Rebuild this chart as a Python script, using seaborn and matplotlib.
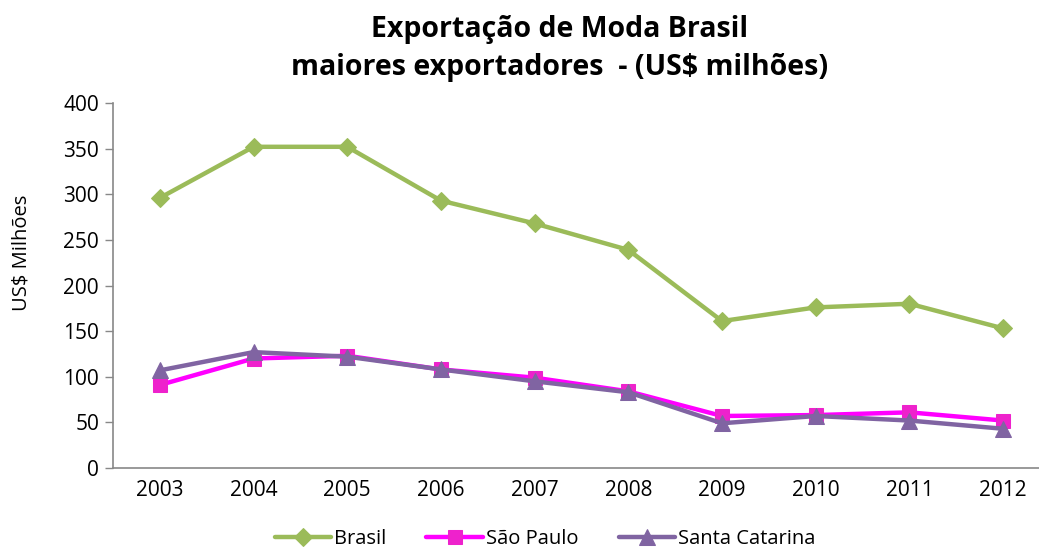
import numpy as np
import pandas as pd
import matplotlib
matplotlib.use("Agg")
import matplotlib.pyplot as plt
import seaborn as sns

years = [2003, 2004, 2005, 2006, 2007, 2008, 2009, 2010, 2011, 2012]
brasil = [296, 352, 352, 293, 268, 239, 161, 176, 180, 153]
sao_paulo = [91, 120, 123, 108, 99, 84, 57, 58, 61, 52]
santa_catarina = [107, 127, 122, 108, 95, 83, 49, 57, 52, 43]

series = ["Brasil", "São Paulo", "Santa Catarina"]
line_colors = ["#9BBB59", "#FF00FF", "#8064A2"]
marker_colors = ["#9BBB59", "#EE22CC", "#8064A2"]
markers = ["D", "s", "^"]
msizes = [9, 10, 11]

df = pd.DataFrame({"ano": years * 3,
                   "valor": brasil + sao_paulo + santa_catarina,
                   "serie": np.repeat(series, len(years))})

sns.set_style("white")
plt.rcParams['font.family'] = ['Open Sans', 'DejaVu Sans']
plt.rcParams['text.color'] = 'black'
plt.rcParams['axes.labelcolor'] = 'black'
plt.rcParams['xtick.color'] = 'black'
plt.rcParams['ytick.color'] = 'black'

fig = plt.figure(figsize=(10.39, 5.51), dpi=100)
ax = fig.add_axes([113/1039, 83/551, (1050-113)/1039, (468-103)/551])

for name, lc, mc, m, ms in zip(series, line_colors, marker_colors, markers, msizes):
    sub = df[df.serie == name]
    sns.lineplot(data=sub, x="ano", y="valor", ax=ax, color=lc, lw=3.2,
                 marker=m, markersize=ms, markerfacecolor=mc,
                 markeredgecolor=mc, label=name)

ax.set_xlim(2002.5, 2012.5)
ax.set_ylim(0, 400)
ax.set_yticks(range(0, 401, 50))
ax.set_xticks(years)
ax.tick_params(axis="y", direction="out", length=6, width=1, color="#888888",
               labelsize=15, pad=4, left=True)
ax.tick_params(axis="x", length=0, labelsize=15, pad=9)
for s in ["top", "right"]:
    ax.spines[s].set_visible(False)
for s in ["left", "bottom"]:
    ax.spines[s].set_color("#888888")
    ax.spines[s].set_linewidth(1.2)
ax.set_xlabel("")
ax.set_ylabel("US$ Milhões", fontsize=14.5, va="center")
ax.yaxis.set_label_coords(-91/937, 0.589)

fig.text(560/1039, 1 - 30/551, "Exportação de Moda Brasil",
         ha="center", va="center", fontsize=20.5, fontweight="bold")
fig.text(560/1039, 1 - 68/551, "maiores exportadores  - (US$ milhões)",
         ha="center", va="center", fontsize=20.5, fontweight="bold")

ax.legend(loc="center", bbox_to_anchor=(545/1039, 12/551),
          bbox_transform=fig.transFigure, ncol=3, frameon=False,
          fontsize=14.5, handlelength=2.8, handletextpad=0.15, columnspacing=2.0,
          borderpad=0)

fig.savefig("out.png", dpi=100)
